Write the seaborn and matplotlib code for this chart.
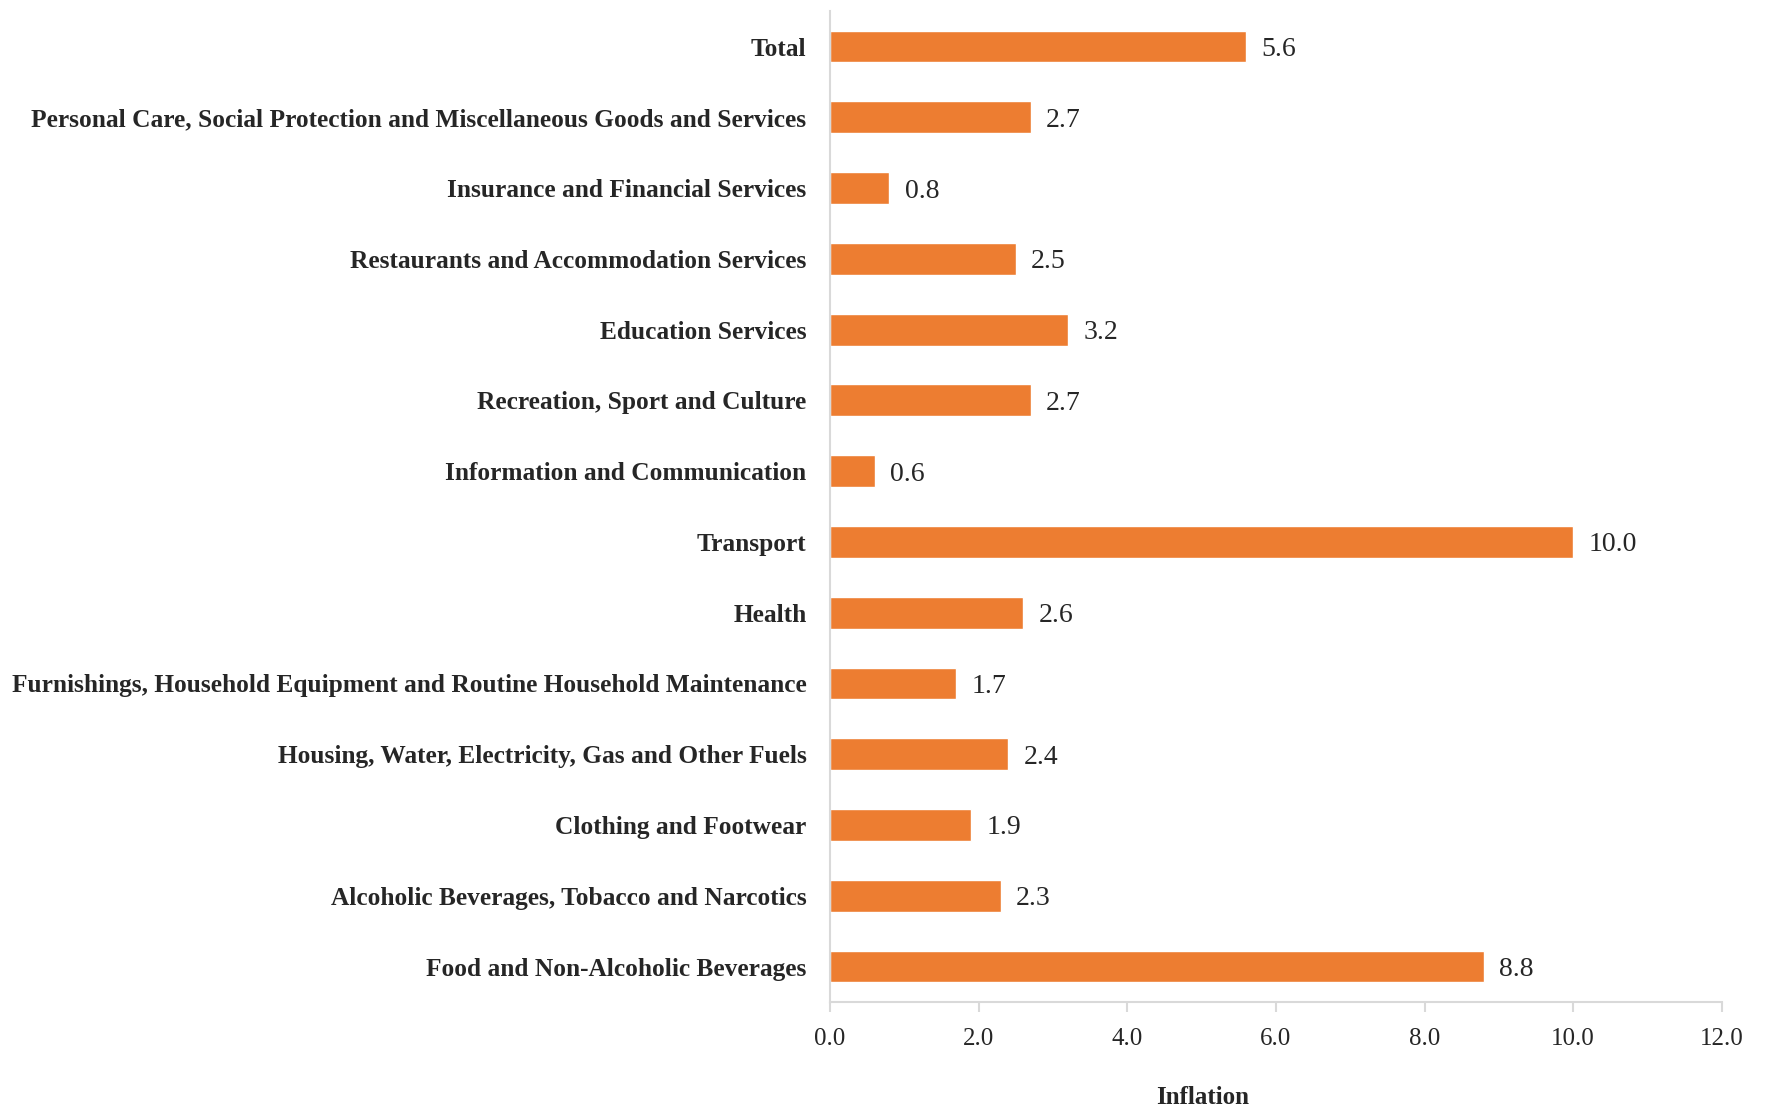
import matplotlib
matplotlib.use("Agg")
import matplotlib.pyplot as plt
import seaborn as sns
import pandas as pd

# Categorías y valores de inflación (de arriba a abajo)
categorias = [
    "Total",
    "Personal Care, Social Protection and Miscellaneous Goods and Services",
    "Insurance and Financial Services",
    "Restaurants and Accommodation Services",
    "Education Services",
    "Recreation, Sport and Culture",
    "Information and Communication",
    "Transport",
    "Health",
    "Furnishings, Household Equipment and Routine Household Maintenance",
    "Housing, Water, Electricity, Gas and Other Fuels",
    "Clothing and Footwear",
    "Alcoholic Beverages, Tobacco and Narcotics",
    "Food and Non-Alcoholic Beverages",
]
inflacion = [5.6, 2.7, 0.8, 2.5, 3.2, 2.7, 0.6, 10.0, 2.6, 1.7, 2.4, 1.9, 2.3, 8.8]
ticks_x = [0, 2, 4, 6, 8, 10, 12]

df = pd.DataFrame({"Categoria": categorias, "Inflation": inflacion})

sns.set_style("white")
plt.rcParams['font.family'] = ['Liberation Serif', 'DejaVu Serif']

fig, ax = plt.subplots(figsize=(17.66, 11.12), dpi=100)
fig.subplots_adjust(left=0.470, right=0.975, top=0.990, bottom=0.099)

sns.barplot(data=df, y="Categoria", x="Inflation", color="#ED7D31",
            width=0.45, saturation=1, ax=ax, orient="h")

etiquetas = ax.bar_label(ax.containers[0], labels=[f"{v:.1f}" for v in inflacion],
                         padding=11, fontsize=20)
for t in etiquetas:
    t.set_va("center_baseline")

ax.set_xlim(0, 12)
ax.set_ylim(13.5, -0.5)
ax.set_xticks(ticks_x)
ax.set_xticklabels([f"{t:.1f}" for t in ticks_x], fontsize=18)
ax.tick_params(axis="y", labelsize=18.3, length=0, pad=17)
ax.tick_params(axis="x", bottom=True, direction="out", length=7,
               color="#D9D9D9", width=1.5, pad=12)
for lbl in ax.get_yticklabels():
    lbl.set_fontweight("bold")

for s in ["top", "right"]:
    ax.spines[s].set_visible(False)
for s in ["left", "bottom"]:
    ax.spines[s].set_color("#D9D9D9")
    ax.spines[s].set_linewidth(1.5)

ax.set_ylabel("")
ax.set_xlabel("Inflation", fontsize=18, fontweight="bold")
ax.xaxis.set_label_coords(0.418, -0.085)

plt.savefig("out.png", dpi=100)
plt.close()
